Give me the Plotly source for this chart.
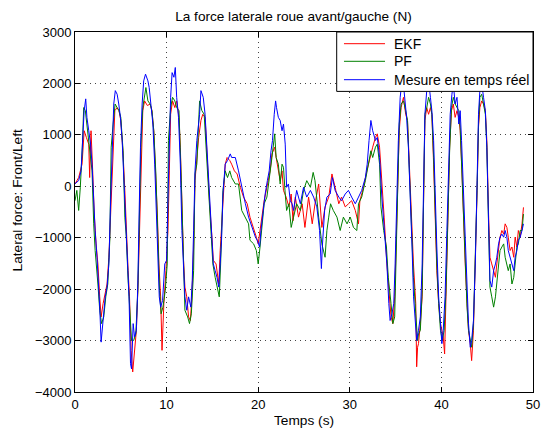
import plotly.graph_objects as go

# Mesure en temps reel (blue)
t_mes = [0.0, 0.4, 0.66, 0.9, 1.0, 1.17, 1.3, 1.5, 1.7, 1.86, 2.0, 2.2, 2.4, 2.6, 2.7, 2.85, 3.07, 3.3, 3.5, 3.7,
         3.87, 4.05, 4.23, 4.4, 4.6, 4.78, 4.96, 5.15, 5.3, 5.5, 5.7, 5.9, 6.06, 6.17, 6.35, 6.5, 6.7, 6.86, 7.0, 7.15,
         7.33, 7.5, 7.7, 7.96, 8.1, 8.3, 8.5, 8.7, 8.9, 9.05, 9.2, 9.35, 9.56, 9.8, 10.0, 10.15, 10.3, 10.44, 10.6, 10.8,
         10.95, 11.1, 11.3, 11.5, 11.67, 11.85, 12.0, 12.2, 12.4, 12.65, 12.8, 12.95, 13.1, 13.3, 13.6, 13.75, 13.9, 14.0,
         14.2, 14.4, 14.6, 14.76, 14.95, 15.1, 15.3, 15.5, 15.7, 15.85, 16.0, 16.15, 16.4, 16.65, 16.95, 17.1, 17.5, 17.85,
         18.2, 18.6, 18.95, 19.3, 19.7, 19.9, 20.15, 20.3, 20.5, 20.76, 21.0, 21.2, 21.4, 21.56, 21.75, 21.9, 22.0, 22.2,
         22.4, 22.6, 22.76, 22.95, 23.1, 23.3, 23.5, 23.7, 23.85, 24.05, 24.2, 24.6, 24.95, 25.3, 25.7, 26.05, 26.4, 26.7,
         26.9, 27.0, 27.25, 27.5, 27.86, 28.1, 28.4, 28.8, 29.1, 29.5, 29.85, 30.2, 30.6, 30.95, 31.3, 31.7, 31.9, 32.1,
         32.3, 32.5, 32.8, 33.0, 33.25, 33.5, 33.75, 34.05, 34.26, 34.4, 34.6, 34.8, 34.95, 35.1, 35.3, 35.5, 35.7, 35.9,
         36.05, 36.2, 36.4, 36.6, 36.8, 36.96, 37.15, 37.3, 37.5, 37.7, 37.9, 38.05, 38.2, 38.4, 38.6, 38.8, 38.96, 39.15,
         39.3, 39.5, 39.7, 39.9, 40.05, 40.2, 40.4, 40.6, 40.8, 40.96, 41.15, 41.3, 41.5, 41.7, 41.9, 42.05, 42.2, 42.4,
         42.6, 42.8, 42.96, 43.15, 43.3, 43.5, 43.7, 43.9, 44.05, 44.2, 44.4, 44.6, 44.8, 44.96, 45.15, 45.3, 45.5, 45.7,
         45.9, 46.05, 46.24, 46.4, 46.6, 46.8, 46.96, 47.15, 47.3, 47.5, 47.7, 47.9, 48.05, 48.24, 48.4, 48.6, 48.8, 48.96]
f_mes = [50, 110, 300, 1080, 1470, 1700, 1340, 1080, 820, 430, -210, -860, -1380, -1900, -2350, -3030, -2600, -2150, -1960, -1500,
         -400, 760, 1600, 1860, 1790, 1600, 1340, 890, 240, -400, -1180, -2150, -3450, -3550, -2670, -2930, -2800, -1900, -540, 760,
         1600, 2050, 2180, 2050, 1920, 1600, 1210, 430, -600, -1510, -2150, -2350, -2220, -1510, -1440, -210, 890, 1730, 2210, 2120,
         2310, 1730, 1340, 430, -860, -1510, -2150, -2410, -2150, -2350, -1830, -860, 300, 890, 1400, 1860, 1800, 1730,
         1400, 760, 110, -400, -1120, -1510, -1640, -1770, -1960, -1510, -1050, -150, 430, 500, 630, 560, 560, 300,
         -20, -340, -600, -800, -990, -1050, -1180, -860, -540, -150, 110, 300, 690, 890, 1400, 1660, 1530, 1340,
         1280, 1080, 1210, 820, -20, 45, -280, -340, -470, -280, -80, -340, -20, -210, -80, -210, -400, -860,
         -1600, -1180, -470, -210, -150, 170, -80, -210, -280, -150, -80, -210, -340, -210, -80, 170, 430, 890,
         1280, 1080, 890, 950, 560, -210, -860, -1510, -2280, -2610, -2480, -2280, -1510, -210, 890, 1730, 2050, 1900,
         1600, 1340, 760, -80, -1200, -2150, -2670, -3000, -2800, -2540, -1510, 110, 1400, 1860, 2050, 1730, 1470, 890,
         -210, -1180, -2150, -2670, -3060, -2800, -2150, -860, 430, 1400, 1790, 2000, 1600, 1730, 1210, 1470, 890, -80,
         -1180, -2150, -2670, -3130, -3000, -2610, -1510, 110, 1400, 1860, 2000, 1730, 1470, 760, -730, -1830, -1960, -1640,
         -1510, -1380, -1120, -990, -930, -990, -860, -990, -1250, -1380, -1510, -1640, -1380, -1250, -1050, -990, -860, -730]

# EKF (red)
t_ekf = [0.0, 0.4, 0.77, 1.0, 1.24, 1.5, 1.6, 1.75, 1.93, 2.1, 2.3, 2.5, 2.7, 2.85, 3.07, 3.25, 3.5, 3.7, 3.95, 4.16,
         4.35, 4.6, 4.8, 5.0, 5.25, 5.44, 5.6, 5.8, 5.95, 6.13, 6.3, 6.5, 6.7, 6.9, 7.08, 7.26, 7.4, 7.6, 7.9, 8.2,
         8.4, 8.6, 8.8, 9.0, 9.16, 9.35, 9.5, 9.7, 9.93, 10.15, 10.3, 10.44, 10.65, 10.9, 11.1, 11.35, 11.5, 11.67, 11.85, 12.0,
         12.2, 12.4, 12.6, 12.76, 12.95, 13.1, 13.3, 13.5, 13.75, 13.95, 14.2, 14.4, 14.7, 14.95, 15.1, 15.4, 15.7, 15.85, 16.0, 16.2,
         16.4, 16.6, 16.9, 17.1, 17.4, 17.7, 18.05, 18.4, 18.8, 19.1, 19.5, 19.8, 20.0, 20.2, 20.4, 20.65, 20.95, 21.3, 21.5, 21.8,
         21.96, 22.2, 22.4, 22.6, 22.76, 23.05, 23.35, 23.6, 23.8, 24.05, 24.4, 24.8, 25.1, 25.5, 25.9, 26.2, 26.6, 26.95, 27.3, 27.7,
         28.05, 28.4, 28.8, 29.1, 29.5, 29.86, 30.2, 30.6, 30.95, 31.1, 31.5, 31.86, 32.2, 32.5, 32.8, 33.0, 33.25, 33.5, 33.75, 34.05,
         34.26, 34.5, 34.7, 34.9, 35.05, 35.25, 35.4, 35.6, 35.86, 36.1, 36.3, 36.5, 36.7, 36.95, 37.2, 37.3, 37.4, 37.5, 37.7, 37.9,
         38.05, 38.2, 38.4, 38.6, 38.8, 38.96, 39.15, 39.3, 39.5, 39.7, 39.9, 40.2, 40.35, 40.5, 40.7, 40.9, 41.1, 41.3, 41.5, 41.7,
         41.9, 42.05, 42.24, 42.4, 42.6, 42.8, 42.96, 43.15, 43.3, 43.5, 43.7, 43.9, 44.05, 44.2, 44.4, 44.6, 44.8, 44.96, 45.15, 45.3,
         45.5, 45.7, 45.9, 46.05, 46.24, 46.4, 46.6, 46.8, 46.96, 47.15, 47.3, 47.5, 47.7, 47.9, 48.05, 48.24, 48.4, 48.6, 48.8, 48.96]
f_ekf = [45, 170, 430, 1080, 950, 820, 170, 1080, 300, -540, -1120, -1510, -2150, -2540, -2280, -2090, -1900, -1380, -210, 950,
         1470, 1530, 1470, 1280, 630, -80, -860, -1640, -2150, -3190, -3610, -3130, -2800, -1830, -540, 760, 1470, 1660, 1570, 1600,
         1470, 1080, 300, -600, -1510, -2150, -3190, -2280, -1640, -860, 300, 1400, 1660, 1530, 1660, 1340, 760, -400, -1440, -1960,
         -2150, -2540, -2610, -2150, -1180, 110, 560, 950, 1280, 1400, 1340, 560, -340, -990, -1440, -1510, -1900, -1250, -730, -20,
         430, 560, 500, 430, 300, 240, -20, -210, -340, -600, -800, -990, -1120, -860, -600, -280, -20, 300, 630, 760,
         560, 300, 110, 300, -80, -210, -400, -150, -670, -210, -600, -340, -800, -210, -730, -340, 45, -800, -400, -210,
         240, -20, -340, -210, -400, -340, -280, -470, -730, -280, -20, 300, 560, 760, 950, 1020, 760, 170, -600, -1510,
         -2030, -2540, -2670, -2150, -1180, 110, 1080, 1530, 1730, 1400, 1280, 430, -600, -1510, -2280, -3510, -3130, -3060, -2670, -2150,
         -340, 1280, 1530, 1400, 1530, 1400, 430, -600, -1640, -2280, -2670, -2930, -3260, -2150, -600, 760, 1470, 1600, 1340, 1470,
         1340, 1080, 300, -600, -1510, -2280, -2800, -3060, -3390, -2800, -1640, -80, 1150, 1530, 1660, 1600, 1470, 890, -540, -1380,
         -1510, -1640, -1770, -1510, -1250, -990, -860, -930, -730, -800, -990, -1250, -1180, -1380, -990, -1180, -860, -990, -730, -410]

# PF (green)
t_pf = [0.0, 0.2, 0.4, 0.58, 0.8, 0.95, 1.13, 1.3, 1.5, 1.68, 1.86, 2.04, 2.2, 2.5, 2.7, 2.9, 3.14, 3.36, 3.58, 3.8,
        3.95, 4.16, 4.38, 4.6, 4.8, 5.0, 5.25, 5.44, 5.6, 5.8, 6.0, 6.17, 6.4, 6.64, 6.86, 7.04, 7.2, 7.4, 7.6, 7.74,
        7.96, 8.2, 8.4, 8.6, 8.83, 9.05, 9.23, 9.4, 9.6, 9.85, 10.07, 10.2, 10.44, 10.65, 10.9, 11.1, 11.35, 11.6, 11.8, 12.0,
        12.3, 12.5, 12.7, 12.95, 13.1, 13.3, 13.6, 13.85, 14.1, 14.3, 14.6, 14.85, 15.05, 15.3, 15.56, 15.75, 15.9, 16.15, 16.4, 16.65,
        16.9, 17.1, 17.5, 17.85, 18.2, 18.6, 18.95, 19.1, 19.5, 19.8, 20.0, 20.2, 20.4, 20.65, 20.95, 21.3, 21.5, 21.8, 21.96, 22.2,
        22.4, 22.6, 22.76, 22.95, 23.1, 23.35, 23.6, 23.86, 24.2, 24.6, 24.95, 25.3, 25.7, 26.0, 26.2, 26.6, 26.95, 27.3, 27.5, 27.7,
        27.9, 28.2, 28.6, 28.95, 29.3, 29.7, 30.05, 30.4, 30.77, 30.95, 31.3, 31.7, 32.05, 32.3, 32.5, 32.8, 33.0, 33.25, 33.4, 33.7,
        34.0, 34.2, 34.5, 34.7, 34.9, 35.05, 35.25, 35.4, 35.6, 35.86, 36.1, 36.3, 36.5, 36.7, 36.95, 37.2, 37.4, 37.5, 37.7, 37.9,
        38.05, 38.2, 38.4, 38.6, 38.8, 38.96, 39.15, 39.3, 39.5, 39.7, 39.9, 40.1, 40.3, 40.5, 40.7, 40.9, 41.1, 41.3, 41.5, 41.7,
        41.9, 42.05, 42.24, 42.4, 42.6, 42.8, 42.96, 43.15, 43.3, 43.5, 43.7, 43.9, 44.05, 44.2, 44.4, 44.6, 44.8, 44.96, 45.15, 45.3,
        45.5, 45.7, 45.9, 46.05, 46.24, 46.4, 46.6, 46.8, 46.96, 47.15, 47.3, 47.5, 47.7, 47.9, 48.05, 48.24, 48.4, 48.6, 48.8, 48.96]
f_pf = [-280, -80, -470, -20, 760, 1530, 1470, 1210, 950, 560, 300, -730, -1250, -1900, -2410, -2670, -2540, -2150, -1900, -1050,
        760, 1210, 1600, 1530, 1470, 1340, 690, -600, -990, -1830, -2540, -3000, -3000, -2870, -2030, -600, 820, 1530, 1790, 1920,
        1660, 1600, 1470, 1080, 240, -990, -2030, -2480, -2350, -2030, -1510, 890, 1530, 1730, 1660, 1530, 1470, 110, -1180, -2410,
        -2540, -2670, -2480, -1640, 240, 430, 1660, 1470, 1400, 760, -210, -1120, -1510, -1770, -2030, -2150, -1510, -80, 300, 170,
        300, 170, 45, 45, -470, -600, -730, -1050, -1120, -1250, -1510, -1180, -730, -340, -210, 240, 560, 1020, 560, 430,
        45, 430, 370, -150, -470, -340, -800, -600, -340, -470, -80, 110, -20, 270, 110, -600, -1120, -1380, -860, -600,
        -340, -470, -600, -860, -600, -730, -600, -800, -860, -340, -210, 110, 430, 690, 560, 760, 820, 430, -400, -860,
        -1180, -1770, -2280, -2670, -2540, -1510, 110, 1210, 1600, 1660, 1470, 1280, 300, -730, -1770, -2480, -3000, -2870, -2800, -2030,
        -210, 1400, 1530, 1730, 1600, 1400, 560, -470, -1510, -2280, -2800, -3000, -2800, -2030, -600, 690, 1530, 1730, 1600, 1530,
        1470, 1150, 300, -730, -1640, -2350, -2800, -3000, -3130, -2670, -1510, -20, 1210, 1730, 1790, 1600, 1400, 760, -670, -1960,
        -2150, -2350, -2150, -1900, -1510, -1250, -1180, -1120, -1380, -1510, -1640, -1510, -1900, -1770, -1510, -1180, -1120, -860, -860, -540]

x_ticks = [0, 10, 20, 30, 40, 50]
y_ticks = [-4000, -3000, -2000, -1000, 0, 1000, 2000, 3000]

series = [
    ("EKF", t_ekf, f_ekf, "#ff0000"),
    ("PF", t_pf, f_pf, "#008000"),
    ("Mesure en temps réel", t_mes, f_mes, "#0000ff"),
]

fig = go.Figure()
for name, t, f, col in series:
    fig.add_trace(go.Scatter(x=t, y=f, mode="lines", name=name, line=dict(color=col, width=1), showlegend=False))

# matlab-ish box axes with dotted grid
axis_style = dict(showline=True, linecolor="black", linewidth=1, mirror="ticks", ticks="inside", ticklen=5,
                  tickcolor="black", showgrid=True, gridcolor="#444444", griddash="1px,4px", gridwidth=1,
                  zeroline=False, automargin=False, tickfont=dict(size=13, color="black"))

fig.update_xaxes(range=[0, 50], tickvals=x_ticks, title=dict(text="Temps (s)", font=dict(size=13.7), standoff=4),
                 **axis_style)
fig.update_yaxes(range=[-4000, 3000], tickvals=y_ticks, **axis_style)

# y label sits a little above the axis centre in the original
fig.add_annotation(text="Lateral force: Front/Left", xref="paper", yref="paper", x=-0.1245, y=0.532,
                   xanchor="center", yanchor="middle", textangle=-90, showarrow=False,
                   font=dict(size=13.7, color="black"))

# matlab style legend box (white, covers the lines under it), drawn by hand for the tight row spacing
fig.add_shape(type="rect", xref="paper", yref="paper", x0=0.5714, x1=1, y0=0.835, y1=1,
              fillcolor="white", line=dict(color="black", width=1), layer="above")
rows_y = [0.9675, 0.9186, 0.8675]
for (name, t, f, col), ry in zip(series, rows_y):
    fig.add_shape(type="line", xref="paper", yref="paper", x0=0.5873, x1=0.6769, y0=ry, y1=ry,
                  line=dict(color=col, width=1), layer="above")
    fig.add_annotation(text=name, xref="paper", yref="paper", x=0.6915, y=ry, xanchor="left", yanchor="middle",
                       showarrow=False, font=dict(size=14, color="black"))

fig.update_layout(
    width=541, height=432,
    margin=dict(l=75, r=8, t=32, b=40),
    paper_bgcolor="white", plot_bgcolor="white",
    font=dict(family="Liberation Sans, Arial, sans-serif", size=13, color="black"),
    title=dict(text="La force laterale roue avant/gauche (N)", x=0.5425, xanchor="center", y=0.962, yanchor="middle",
               font=dict(size=13.6)),
    showlegend=False,
)

# page body has a default 8px margin, drop it so the figure sits at the corner
fig.write_html("out.html", config={"displayModeBar": False},
               post_script="document.body.style.margin='0';document.body.style.overflow='hidden';")
